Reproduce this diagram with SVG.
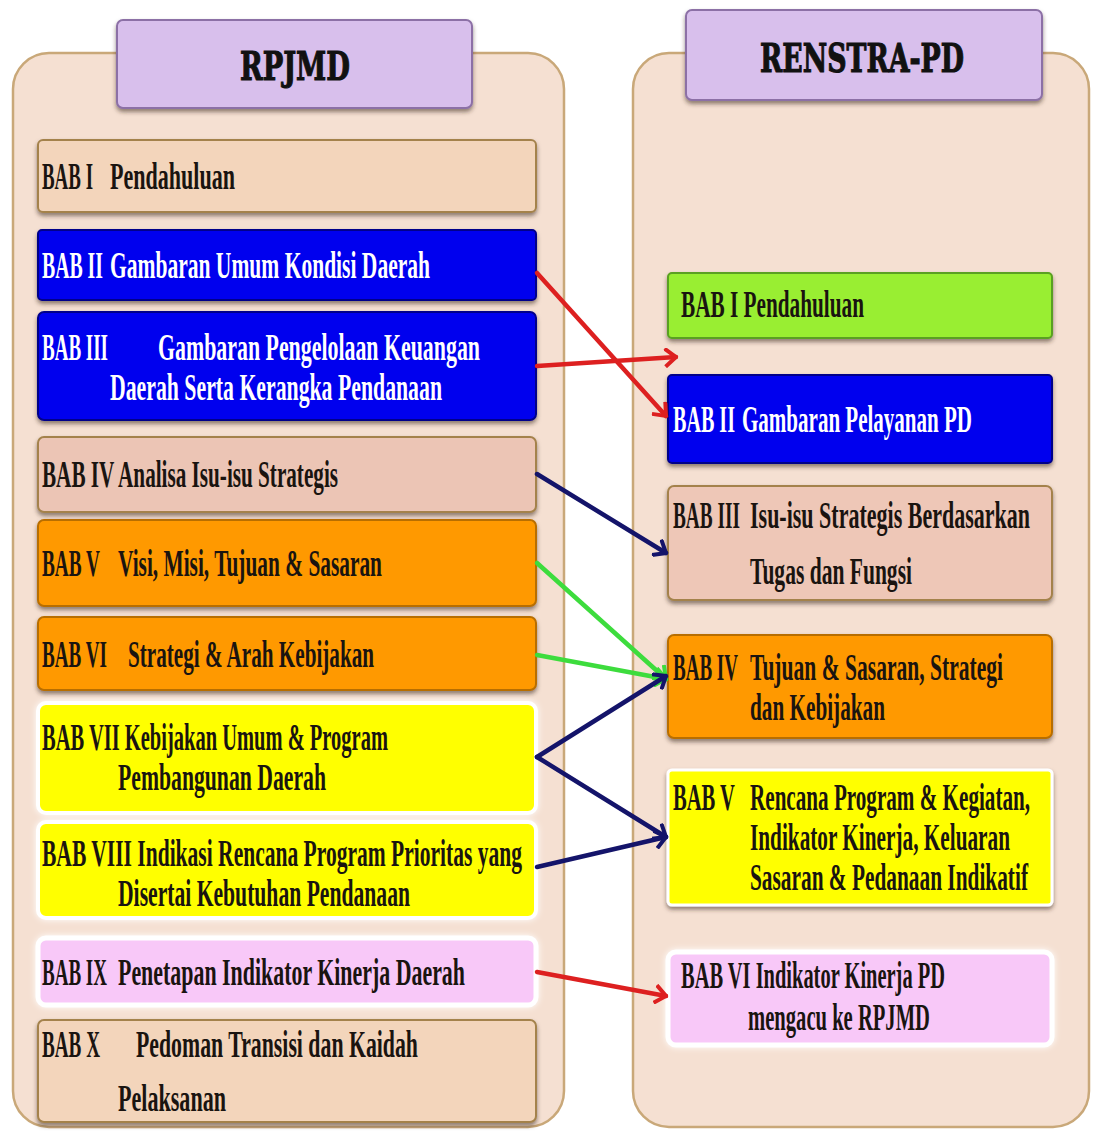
<svg xmlns="http://www.w3.org/2000/svg" width="1100" height="1133" viewBox="0 0 1100 1133">
<style>
.t{font-family:"Liberation Serif","DejaVu Serif",serif;font-weight:bold;font-size:22px;fill:#1a1410}
.w{fill:#ffffff}
.title{font-family:"DejaVu Serif","Liberation Serif",serif;font-weight:bold;font-size:27px;fill:#111;stroke:#111;stroke-width:0.8}
.panel{fill:#f5e0d2;stroke:#c9a879;stroke-width:2.5}
.head{fill:#d8bfec;stroke:#8c6fa6;stroke-width:2}
.bx{stroke-width:2}
.c{fill:none;stroke-width:4.5;stroke-linecap:round}
</style>
<defs>
<filter id="sh" x="-5%" y="-10%" width="110%" height="130%">
<feDropShadow dx="0" dy="3" stdDeviation="2" flood-color="#3a2a1a" flood-opacity="0.55"/>
</filter>
<filter id="glow" x="-5%" y="-15%" width="110%" height="130%">
<feDropShadow dx="0" dy="0" stdDeviation="3" flood-color="#ffffff" flood-opacity="1"/>
</filter>
<marker id="mr" viewBox="0 0 14 20" refX="12" refY="10" markerWidth="14" markerHeight="20" markerUnits="userSpaceOnUse" orient="auto"><path d="M1,1 L12,10 L1,19" fill="none" stroke="#dd2020" stroke-width="4"/></marker>
<marker id="mn" viewBox="0 0 14 20" refX="12" refY="10" markerWidth="14" markerHeight="20" markerUnits="userSpaceOnUse" orient="auto"><path d="M1,1 L12,10 L1,19" fill="none" stroke="#14146a" stroke-width="4"/></marker>
<marker id="mg" viewBox="0 0 14 20" refX="12" refY="10" markerWidth="14" markerHeight="20" markerUnits="userSpaceOnUse" orient="auto"><path d="M1,1 L12,10 L1,19" fill="none" stroke="#3ddc3d" stroke-width="4"/></marker>
</defs>
<rect width="1100" height="1133" fill="#ffffff"/>

<g id="panel-left">
<rect class="panel" x="13" y="53" width="551" height="1074" rx="36"/>
</g>
<g id="panel-right">
<rect class="panel" x="633" y="53" width="456" height="1074" rx="36"/>
</g>

<g id="title-rpjmd">
<rect class="head" x="117" y="20" width="355" height="88" rx="6" filter="url(#sh)"/>
<text class="title" transform="translate(240,80) scale(1,1.45)" textLength="110" lengthAdjust="spacingAndGlyphs">RPJMD</text>
</g>
<g id="title-renstra">
<rect class="head" x="686" y="10" width="356" height="90" rx="6" filter="url(#sh)"/>
<text class="title" transform="translate(760,72) scale(1,1.45)" textLength="204" lengthAdjust="spacingAndGlyphs">RENSTRA-PD</text>
</g>

<g id="l-bab1">
<rect class="bx" x="38" y="140" width="498" height="72" rx="5" fill="#f3d5bb" stroke="#a4824c" filter="url(#sh)"/>
<text class="t" transform="translate(42,189) scale(1,1.72)" textLength="51" lengthAdjust="spacingAndGlyphs">BAB I</text>
<text class="t" transform="translate(110,189) scale(1,1.72)" textLength="125" lengthAdjust="spacingAndGlyphs">Pendahuluan</text>
</g>
<g id="l-bab2">
<rect class="bx" x="38" y="230" width="498" height="70" rx="4" fill="#0000ee" stroke="#00008a" filter="url(#sh)"/>
<text class="t w" transform="translate(42,278) scale(1,1.72)" textLength="61" lengthAdjust="spacingAndGlyphs">BAB II</text>
<text class="t w" transform="translate(110,278) scale(1,1.72)" textLength="320" lengthAdjust="spacingAndGlyphs">Gambaran  Umum Kondisi Daerah</text>
</g>
<g id="l-bab3">
<rect class="bx" x="38" y="312" width="498" height="108" rx="6" fill="#0000ee" stroke="#00008a" filter="url(#sh)"/>
<text class="t w" transform="translate(42,360) scale(1,1.72)" textLength="66" lengthAdjust="spacingAndGlyphs">BAB III</text>
<text class="t w" transform="translate(158,360) scale(1,1.72)" textLength="322" lengthAdjust="spacingAndGlyphs">Gambaran  Pengelolaan Keuangan</text>
<text class="t w" transform="translate(110,400) scale(1,1.72)" textLength="332" lengthAdjust="spacingAndGlyphs">Daerah  Serta Kerangka Pendanaan</text>
</g>
<g id="l-bab4">
<rect class="bx" x="38" y="437" width="498" height="75" rx="6" fill="#ecc5b5" stroke="#a4824c" filter="url(#sh)"/>
<text class="t" transform="translate(42,487) scale(1,1.72)" textLength="296" lengthAdjust="spacingAndGlyphs">BAB IV Analisa Isu-isu Strategis</text>
</g>
<g id="l-bab5">
<rect class="bx" x="38" y="520" width="498" height="86" rx="6" fill="#ff9900" stroke="#b86e00" filter="url(#sh)"/>
<text class="t" transform="translate(42,576) scale(1,1.72)" textLength="58" lengthAdjust="spacingAndGlyphs">BAB V</text>
<text class="t" transform="translate(118,576) scale(1,1.72)" textLength="264" lengthAdjust="spacingAndGlyphs">Visi, Misi, Tujuan  &amp; Sasaran</text>
</g>
<g id="l-bab6">
<rect class="bx" x="38" y="617" width="498" height="73" rx="6" fill="#ff9900" stroke="#b86e00" filter="url(#sh)"/>
<text class="t" transform="translate(42,667) scale(1,1.72)" textLength="65" lengthAdjust="spacingAndGlyphs">BAB VI</text>
<text class="t" transform="translate(128,667) scale(1,1.72)" textLength="246" lengthAdjust="spacingAndGlyphs">Strategi &amp; Arah Kebijakan</text>
</g>
<g id="l-bab7">
<rect x="38" y="703" width="498" height="110" rx="8" fill="#ffff00" stroke="#ffffff" stroke-width="4" filter="url(#glow)"/>
<text class="t" transform="translate(42,750) scale(1,1.72)" textLength="346" lengthAdjust="spacingAndGlyphs">BAB VII Kebijakan Umum &amp; Program</text>
<text class="t" transform="translate(118,790) scale(1,1.72)" textLength="208" lengthAdjust="spacingAndGlyphs">Pembangunan Daerah</text>
</g>
<g id="l-bab8">
<rect x="38" y="822" width="498" height="96" rx="8" fill="#ffff00" stroke="#ffffff" stroke-width="4" filter="url(#glow)"/>
<text class="t" transform="translate(42,866) scale(1,1.72)" textLength="480" lengthAdjust="spacingAndGlyphs">BAB VIII Indikasi  Rencana Program Prioritas  yang</text>
<text class="t" transform="translate(118,906) scale(1,1.72)" textLength="292" lengthAdjust="spacingAndGlyphs">Disertai Kebutuhan Pendanaan</text>
</g>
<g id="l-bab9">
<rect x="38" y="938" width="498" height="67" rx="8" fill="#f8c8f8" stroke="#ffffff" stroke-width="5" filter="url(#glow)"/>
<text class="t" transform="translate(42,985) scale(1,1.72)" textLength="65" lengthAdjust="spacingAndGlyphs">BAB IX</text>
<text class="t" transform="translate(118,985) scale(1,1.72)" textLength="347" lengthAdjust="spacingAndGlyphs">Penetapan Indikator  Kinerja Daerah</text>
</g>
<g id="l-bab10">
<rect class="bx" x="38" y="1020" width="498" height="102" rx="6" fill="#f3d5bb" stroke="#a4824c" filter="url(#sh)"/>
<text class="t" transform="translate(42,1057) scale(1,1.72)" textLength="58" lengthAdjust="spacingAndGlyphs">BAB X</text>
<text class="t" transform="translate(136,1057) scale(1,1.72)" textLength="282" lengthAdjust="spacingAndGlyphs">Pedoman Transisi dan Kaidah</text>
<text class="t" transform="translate(118,1111) scale(1,1.72)" textLength="108" lengthAdjust="spacingAndGlyphs">Pelaksanan</text>
</g>

<g id="r-bab1">
<rect class="bx" x="668" y="273" width="384" height="65" rx="4" fill="#99ee33" stroke="#5aa020" filter="url(#sh)"/>
<text class="t" transform="translate(681,317) scale(1,1.72)" textLength="183" lengthAdjust="spacingAndGlyphs">BAB I Pendahuluan</text>
</g>
<g id="r-bab2">
<rect class="bx" x="668" y="375" width="384" height="88" rx="4" fill="#0000ee" stroke="#00008a" filter="url(#sh)"/>
<text class="t w" transform="translate(673,432) scale(1,1.72)" textLength="62" lengthAdjust="spacingAndGlyphs">BAB II</text>
<text class="t w" transform="translate(742,432) scale(1,1.72)" textLength="230" lengthAdjust="spacingAndGlyphs">Gambaran Pelayanan PD</text>
</g>
<g id="r-bab3">
<rect class="bx" x="668" y="486" width="384" height="114" rx="6" fill="#eec7b7" stroke="#a4824c" filter="url(#sh)"/>
<text class="t" transform="translate(673,528) scale(1,1.72)" textLength="67" lengthAdjust="spacingAndGlyphs">BAB III</text>
<text class="t" transform="translate(750,528) scale(1,1.72)" textLength="280" lengthAdjust="spacingAndGlyphs">Isu-isu Strategis Berdasarkan</text>
<text class="t" transform="translate(750,584) scale(1,1.72)" textLength="162" lengthAdjust="spacingAndGlyphs">Tugas dan Fungsi</text>
</g>
<g id="r-bab4">
<rect class="bx" x="668" y="635" width="384" height="103" rx="6" fill="#ff9900" stroke="#b86e00" filter="url(#sh)"/>
<text class="t" transform="translate(673,680) scale(1,1.72)" textLength="65" lengthAdjust="spacingAndGlyphs">BAB IV</text>
<text class="t" transform="translate(750,680) scale(1,1.72)" textLength="253" lengthAdjust="spacingAndGlyphs">Tujuan  &amp; Sasaran, Strategi</text>
<text class="t" transform="translate(750,720) scale(1,1.72)" textLength="135" lengthAdjust="spacingAndGlyphs">dan Kebijakan</text>
</g>
<g id="r-bab5">
<rect x="668" y="770" width="384" height="135" rx="4" fill="#ffff00" stroke="#ffffff" stroke-width="3" filter="url(#sh)"/>
<text class="t" transform="translate(673,810) scale(1,1.72)" textLength="62" lengthAdjust="spacingAndGlyphs">BAB  V</text>
<text class="t" transform="translate(750,810) scale(1,1.72)" textLength="280" lengthAdjust="spacingAndGlyphs">Rencana Program &amp; Kegiatan,</text>
<text class="t" transform="translate(750,850) scale(1,1.72)" textLength="260" lengthAdjust="spacingAndGlyphs">Indikator Kinerja, Keluaran</text>
<text class="t" transform="translate(750,890) scale(1,1.72)" textLength="278" lengthAdjust="spacingAndGlyphs">Sasaran &amp; Pedanaan Indikatif</text>
</g>
<g id="r-bab6">
<rect x="668" y="952" width="384" height="93" rx="8" fill="#f8c8f8" stroke="#ffffff" stroke-width="5" filter="url(#glow)"/>
<text class="t" transform="translate(681,988) scale(1,1.72)" textLength="264" lengthAdjust="spacingAndGlyphs">BAB VI Indikator Kinerja PD</text>
<text class="t" transform="translate(748,1030) scale(1,1.72)" textLength="182" lengthAdjust="spacingAndGlyphs">mengacu ke RPJMD</text>
</g>

<g id="connectors">
<line class="c" stroke="#dd2020" x1="537" y1="273" x2="666" y2="416" marker-end="url(#mr)"/>
<line class="c" stroke="#dd2020" x1="537" y1="366" x2="676" y2="357" marker-end="url(#mr)"/>
<line class="c" stroke="#14146a" x1="537" y1="474" x2="666" y2="553" marker-end="url(#mn)"/>
<line class="c" stroke="#3ddc3d" x1="537" y1="563" x2="666" y2="679" marker-end="url(#mg)"/>
<line class="c" stroke="#3ddc3d" x1="537" y1="655" x2="666" y2="679" marker-end="url(#mg)"/>
<line class="c" stroke="#14146a" x1="537" y1="757" x2="666" y2="676" marker-end="url(#mn)"/>
<line class="c" stroke="#14146a" x1="537" y1="757" x2="666" y2="837" marker-end="url(#mn)"/>
<line class="c" stroke="#14146a" x1="537" y1="867" x2="666" y2="837" marker-end="url(#mn)"/>
<line class="c" stroke="#dd2020" x1="537" y1="972" x2="666" y2="996" marker-end="url(#mr)"/>
</g>
</svg>
